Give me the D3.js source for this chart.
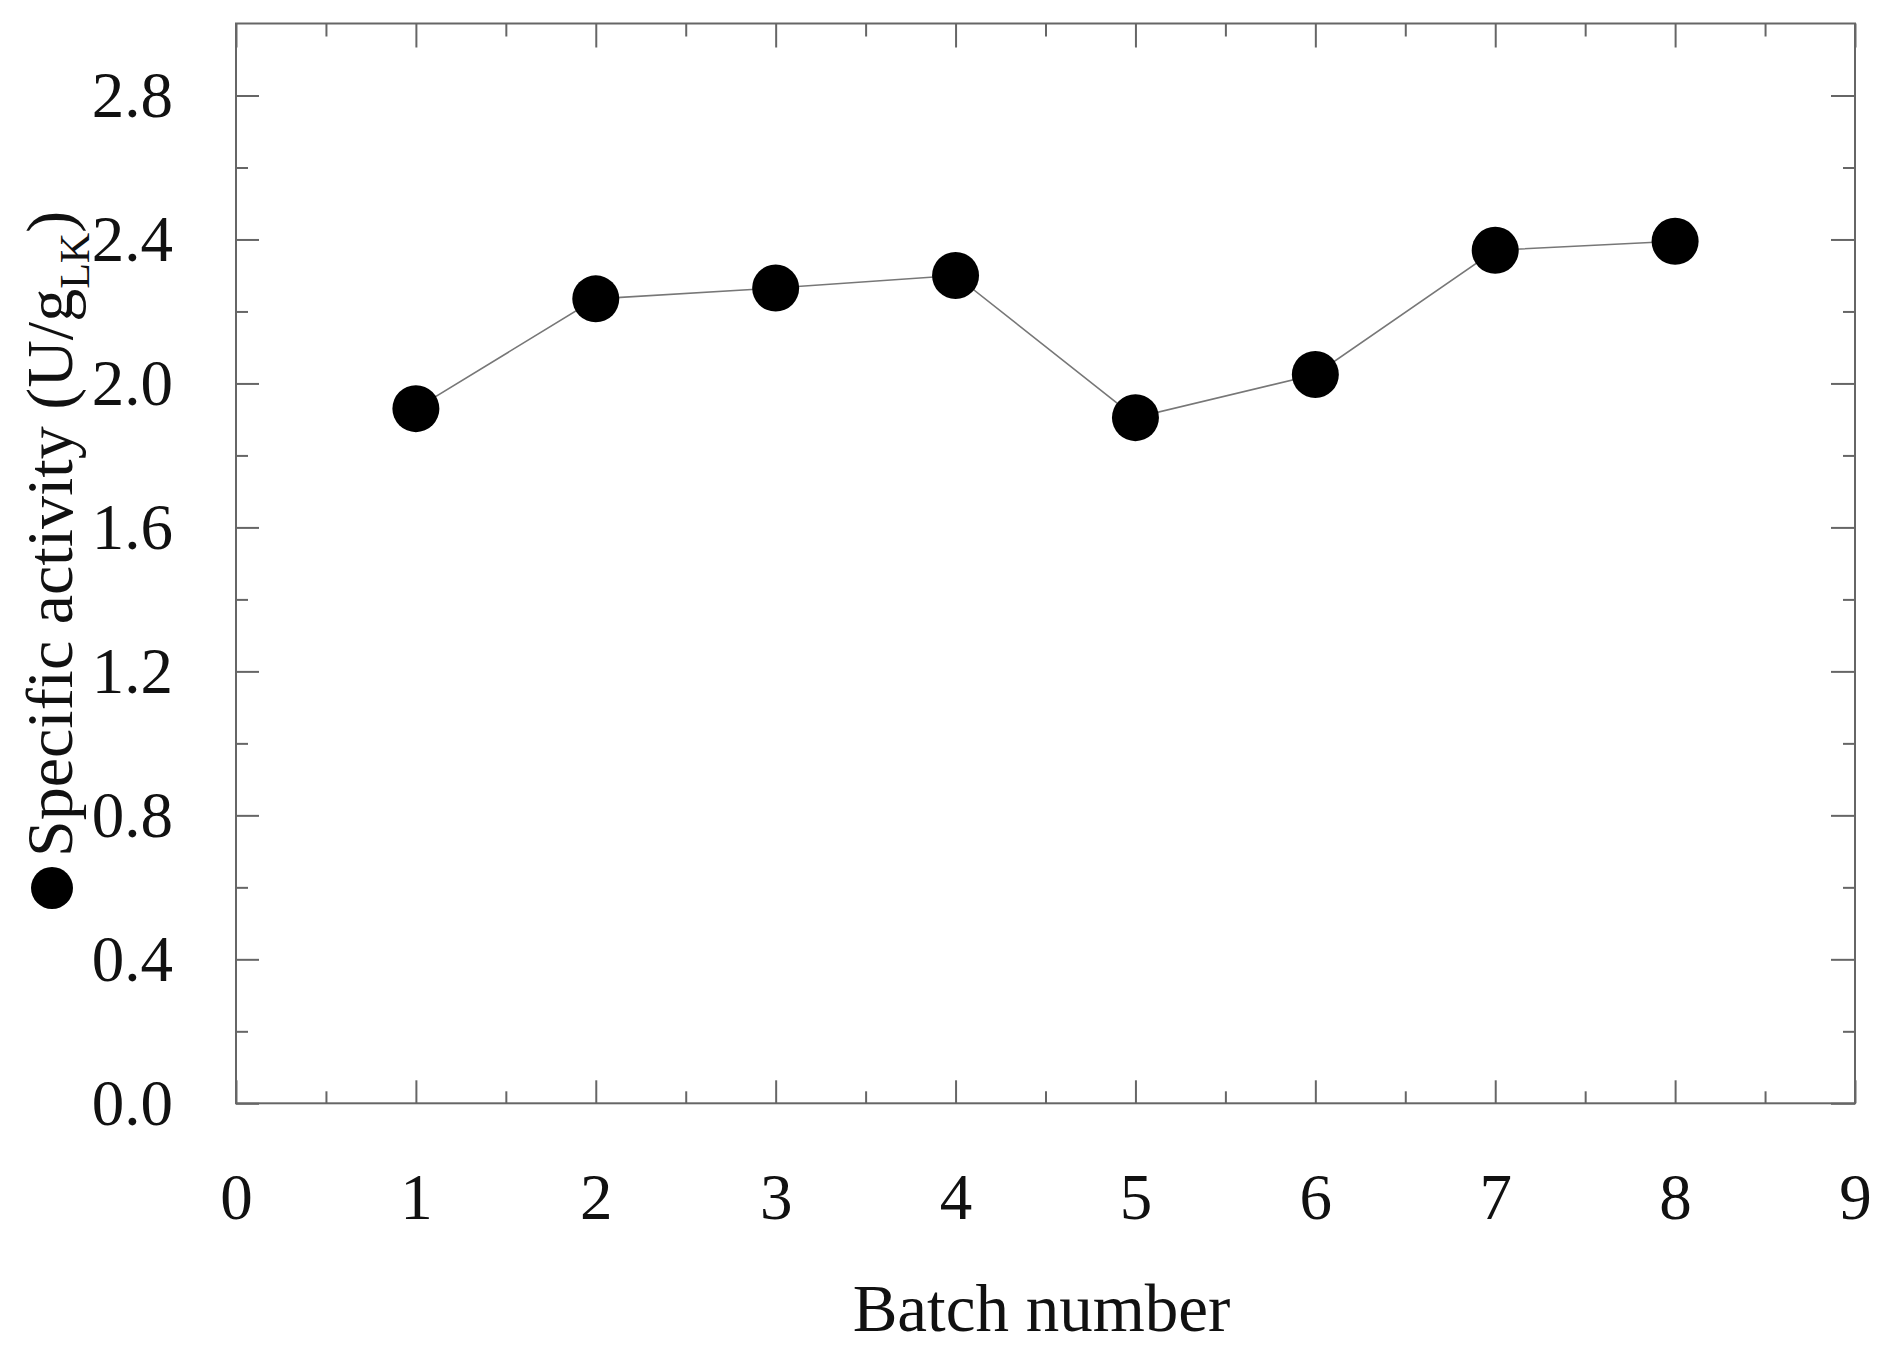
<!DOCTYPE html>
<html>
<head>
<meta charset="utf-8">
<script src="https://cdn.jsdelivr.net/npm/d3@7"></script>
<style>
    body { margin: 0; background: #fff; }
    svg text { font-family: "Liberation Serif", "Times New Roman", serif; fill: #111; }
</style>
</head>
<body>
<div id="chartCont"></div>
<script>
// data
var batches = [1, 2, 3, 4, 5, 6, 7, 8];
var activity = [1.93, 2.235, 2.265, 2.30, 1.905, 2.025, 2.37, 2.395];

var xTicks = [0, 1, 2, 3, 4, 5, 6, 7, 8, 9];
var xMinor = [0.5, 1.5, 2.5, 3.5, 4.5, 5.5, 6.5, 7.5, 8.5];
var yTicks = [0.0, 0.4, 0.8, 1.2, 1.6, 2.0, 2.4, 2.8];
var yMinor = [0.2, 0.6, 1.0, 1.4, 1.8, 2.2, 2.6];

var xTitle = 'Batch number';
var yTitle = 'Specific activity (U/g';
var ySub = 'LK';

svgSize = {
    width: 1885,
    height: 1356,
    margin: {top: 23.5, right: 30, bottom: 252.7, left: 236}
};

var axisColor = '#666';

var svg = d3.select('#chartCont')
    .append('svg')
    .attr('width', svgSize.width)
    .attr('height', svgSize.height);

var g = svg.append('g')
    .attr('transform', 'translate(' + svgSize.margin.left + ',' + svgSize.margin.top + ')');

var width = svgSize.width - svgSize.margin.left - svgSize.margin.right;
var height = svgSize.height - svgSize.margin.top - svgSize.margin.bottom;

var x = d3.scaleLinear().domain([0, 9]).range([0, width]);
var y = d3.scaleLinear().domain([0, 3.0]).range([height, 0]);

function styleAxis(sel) {
    sel.select('.domain').remove();
    sel.selectAll('line').attr('stroke', axisColor).attr('stroke-width', 2);
}

// minor ticks (inward, no labels) on all four sides
g.append('g').attr('transform', 'translate(0,' + height + ')')
    .call(d3.axisBottom(x).tickValues(xMinor).tickSize(-12).tickFormat(''))
    .call(styleAxis);
g.append('g')
    .call(d3.axisTop(x).tickValues(xMinor).tickSize(-13).tickFormat(''))
    .call(styleAxis);
g.append('g')
    .call(d3.axisLeft(y).tickValues(yMinor).tickSize(-12).tickFormat(''))
    .call(styleAxis);
g.append('g').attr('transform', 'translate(' + width + ',0)')
    .call(d3.axisRight(y).tickValues(yMinor).tickSize(-12).tickFormat(''))
    .call(styleAxis);

// major ticks
var xAxis = g.append('g').attr('transform', 'translate(0,' + height + ')')
    .call(d3.axisBottom(x).tickValues(xTicks).tickSize(-23).tickPadding(70).tickFormat(d3.format('d')))
    .call(styleAxis);
g.append('g')
    .call(d3.axisTop(x).tickValues(xTicks).tickSize(-24).tickFormat(''))
    .call(styleAxis);
var yAxis = g.append('g')
    .call(d3.axisLeft(y).tickValues(yTicks).tickSize(-23).tickPadding(63).tickFormat(d3.format('.1f')))
    .call(styleAxis);
g.append('g').attr('transform', 'translate(' + width + ',0)')
    .call(d3.axisRight(y).tickValues(yTicks).tickSize(-24).tickFormat(''))
    .call(styleAxis);

xAxis.selectAll('text')
    .attr('font-family', null)
    .attr('font-size', 65)
    .attr('fill', '#111');
yAxis.selectAll('text')
    .attr('font-family', null)
    .attr('font-size', 65)
    .attr('fill', '#111');

// frame
g.append('rect')
    .attr('x', 0)
    .attr('y', 0)
    .attr('width', width)
    .attr('height', height)
    .attr('fill', 'none')
    .attr('stroke', axisColor)
    .attr('stroke-width', 2);

// series
var pts = batches.map(function (b, i) { return {batch: b, value: activity[i]}; });

var line = d3.line()
    .x(function (d) { return x(d.batch); })
    .y(function (d) { return y(d.value); });

g.append('path')
    .datum(pts)
    .attr('fill', 'none')
    .attr('stroke', '#777')
    .attr('stroke-width', 1.6)
    .attr('d', line);

g.append('g').selectAll('circle')
    .data(pts)
    .enter()
    .append('circle')
    .attr('r', 23.5)
    .attr('fill', '#000')
    .attr('cx', function (d) { return x(d.batch); })
    .attr('cy', function (d) { return y(d.value); });

// axis titles
svg.append('text')
    .attr('x', svgSize.margin.left + x(4.5) - 4)
    .attr('y', 1331)
    .attr('text-anchor', 'middle')
    .attr('font-size', 67)
    .text(xTitle);

var yt = svg.append('g')
    .attr('transform', 'translate(72,857) rotate(-90)');
yt.append('circle')
    .attr('cx', -31)
    .attr('cy', -20)
    .attr('r', 21)
    .attr('fill', '#000');
var ttl = yt.append('text')
    .attr('x', 0)
    .attr('y', 0)
    .attr('font-size', 66);
ttl.append('tspan').text(yTitle);
ttl.append('tspan')
    .attr('dy', 17)
    .attr('font-size', 42)
    .text(ySub);
ttl.append('tspan')
    .attr('dy', -17)
    .text(')');
</script>
</body>
</html>
